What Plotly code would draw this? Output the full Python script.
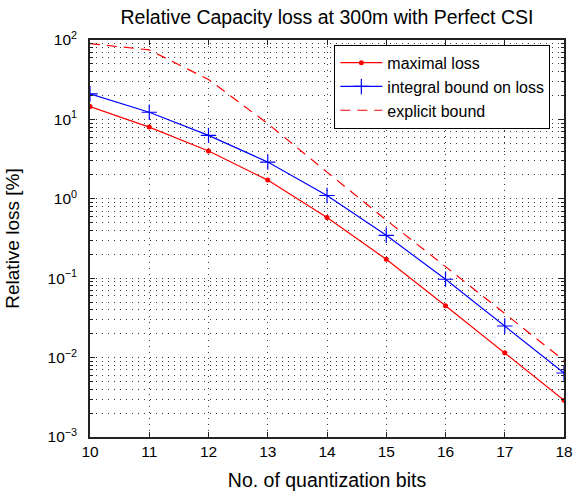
import plotly.graph_objects as go

bits = [10, 11, 12, 13, 14, 15, 16, 17, 18]
maximal_loss = [14.5, 8.0, 4.0, 1.72, 0.58, 0.173, 0.045, 0.0115, 0.0029]
integral_bound = [21.0, 12.3, 6.3, 2.9, 1.1, 0.347, 0.097, 0.025, 0.0064]
explicit_bound = [90.0, 75.0, 31.8, 8.85, 2.17, 0.54, 0.14, 0.036, 0.0092]

decades = [-3, -2, -1, 0, 1, 2]
ytick_vals = [10.0 ** d for d in decades]
ytick_text = ["10<sup>\u2212%d</sup>" % -d if d < 0 else "10<sup>%d</sup>" % d for d in decades]
minor_vals = [m * 10.0 ** d for d in decades[:-1] for m in range(2, 10)]

font = "Liberation Sans, Arial, Helvetica, sans-serif"
gridc = "#3a3a3a"
gdash = "1px,5px"

fig = go.Figure()
fig.add_trace(go.Scatter(
    x=bits, y=maximal_loss, name="maximal loss", mode="lines+markers",
    line=dict(color="#ff0000", width=1.2),
    marker=dict(symbol="circle", size=5, color="#ff0000")))
fig.add_trace(go.Scatter(
    x=bits, y=integral_bound, name="integral bound on loss", mode="lines+markers",
    line=dict(color="#0000ff", width=1.2),
    marker=dict(symbol="cross-thin-open", size=11, line=dict(color="#0000ff", width=1.2))))
fig.add_trace(go.Scatter(
    x=bits, y=explicit_bound, name="explicit bound", mode="lines",
    line=dict(color="#ff0000", width=1.2, dash="10px,7px")))

fig.update_layout(
    width=584, height=499,
    margin=dict(l=90, r=11, t=40, b=56),
    paper_bgcolor="white", plot_bgcolor="white",
    font=dict(family=font, size=15, color="black"),
    title=dict(text="Relative Capacity loss at 300m with Perfect CSI",
               xref="paper", x=0.5, xanchor="center", y=0.965, yanchor="middle",
               font=dict(size=19.5, family=font, color="black")),
    showlegend=True,
    hovermode=False,
    legend=dict(x=0.5155, y=0.988, xanchor="left", yanchor="top",
                bordercolor="black", borderwidth=1, bgcolor="white",
                font=dict(size=16, family=font), tracegroupgap=0,
                itemwidth=42),
)
fig.update_xaxes(
    range=[10, 18], tickvals=bits, ticktext=[str(b) for b in bits],
    showline=True, linecolor="#222", linewidth=1.5, mirror="ticks",
    ticks="inside", ticklen=5, tickcolor="#222",
    showgrid=True, gridcolor=gridc, griddash=gdash, gridwidth=1,
    zeroline=False,
    title=dict(text="No. of quantization bits", font=dict(size=19.5, family=font), standoff=14),
    tickfont=dict(size=15.5, family=font),
)
fig.update_yaxes(
    type="log", range=[-3, 2], tickvals=ytick_vals, ticktext=ytick_text,
    showline=True, linecolor="#222", linewidth=1.5, mirror="ticks",
    ticks="inside", ticklen=5, tickcolor="#222", ticklabelstandoff=8,
    showgrid=True, gridcolor=gridc, griddash=gdash, gridwidth=1,
    minor=dict(tickvals=minor_vals, ticks="inside", ticklen=3, tickcolor="#222",
               showgrid=True, gridcolor=gridc, griddash=gdash, gridwidth=1),
    zeroline=False,
    title=dict(text="Relative loss [%]", font=dict(size=19, family=font), standoff=23),
    tickfont=dict(size=15.5, family=font),
)
fig.write_html("out.html", config={"displayModeBar": False},
               post_script="document.body.style.margin='0';")
